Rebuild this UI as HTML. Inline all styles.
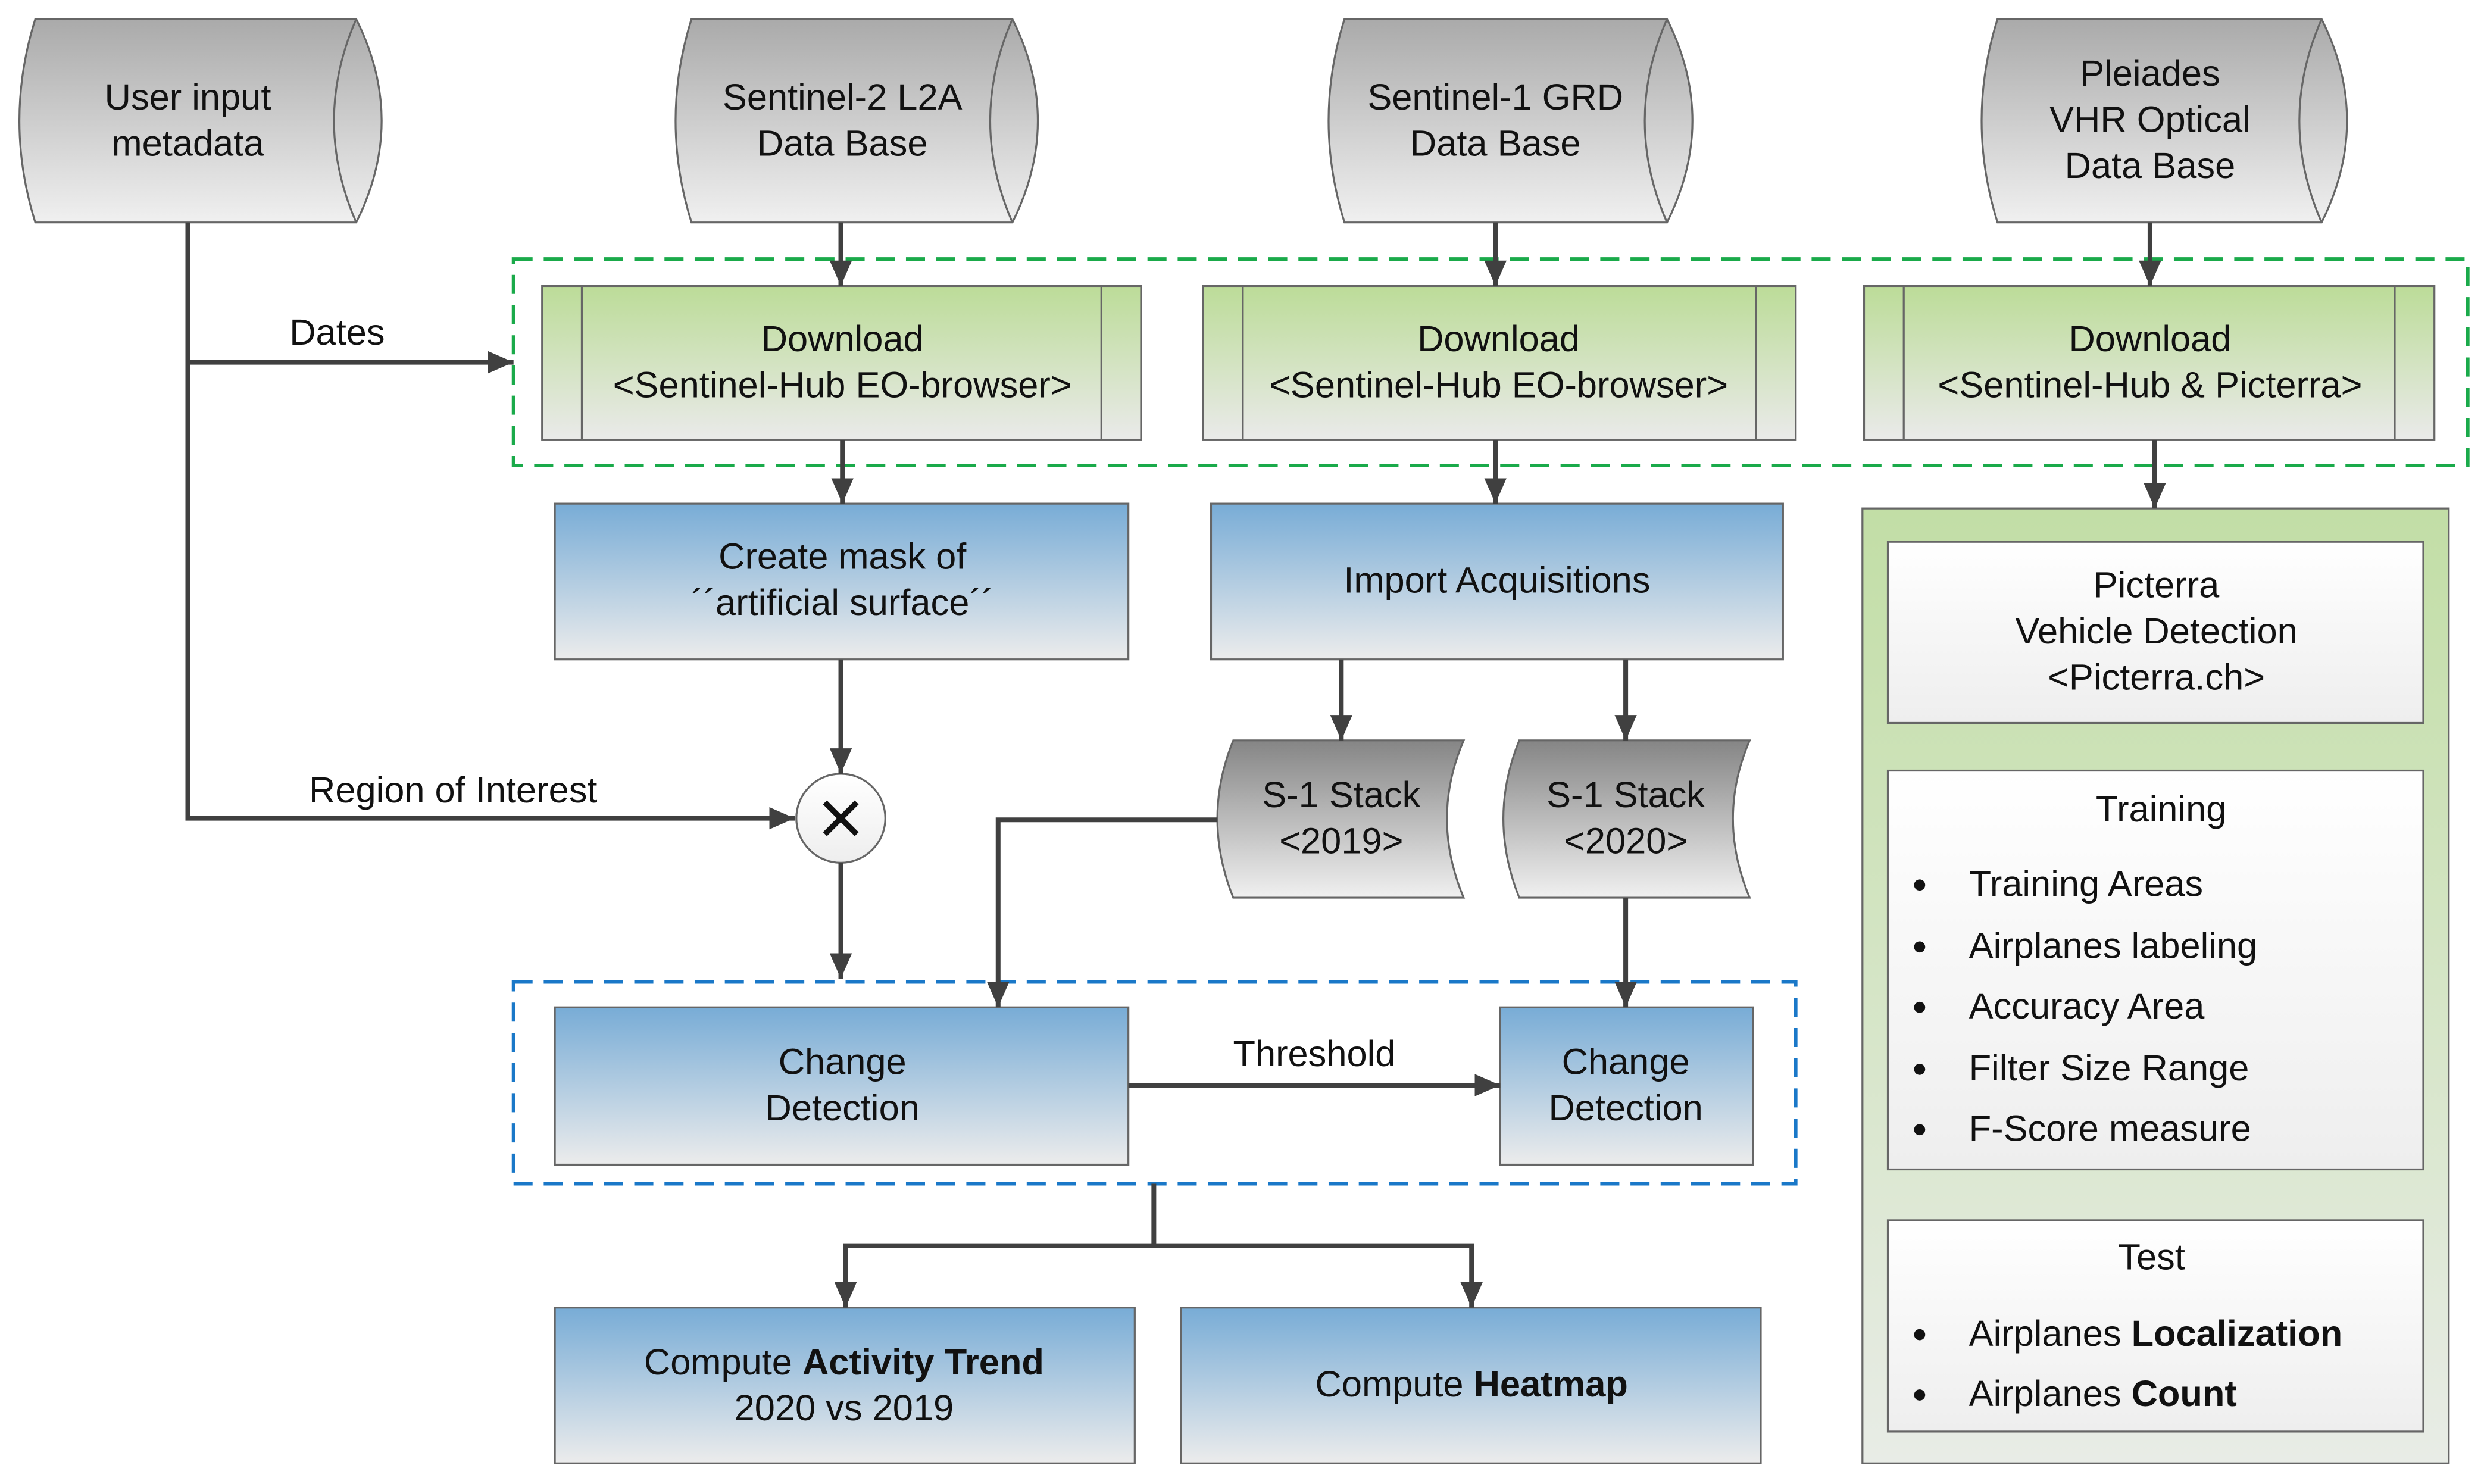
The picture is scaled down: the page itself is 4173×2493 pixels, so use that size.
<!DOCTYPE html>
<html><head><meta charset="utf-8"><style>html,body{margin:0;padding:0;background:#fff}svg{display:block}text{font-family:"Liberation Sans",Arial,sans-serif;fill:#111}</style></head><body>
<svg width="4173" height="2493" viewBox="0 0 1563 934" xmlns="http://www.w3.org/2000/svg">
<defs>
<linearGradient id="gr" x1="0" y1="0" x2="0" y2="1"><stop offset="0" stop-color="#aaaaaa"/><stop offset="1" stop-color="#f0f0f0"/></linearGradient>
<linearGradient id="gr2" x1="0" y1="0" x2="0" y2="1"><stop offset="0" stop-color="#858585"/><stop offset="1" stop-color="#f0f0f0"/></linearGradient>
<linearGradient id="gn" x1="0" y1="0" x2="0" y2="1"><stop offset="0" stop-color="#bcdc98"/><stop offset="1" stop-color="#eaeaea"/></linearGradient>
<linearGradient id="bl" x1="0" y1="0" x2="0" y2="1"><stop offset="0" stop-color="#78acd6"/><stop offset="1" stop-color="#ececec"/></linearGradient>
<linearGradient id="pn" x1="0" y1="0" x2="0" y2="1"><stop offset="0" stop-color="#c2dea6"/><stop offset="1" stop-color="#e8ece6"/></linearGradient>
<linearGradient id="wh" x1="0" y1="0" x2="0" y2="1"><stop offset="0" stop-color="#ffffff"/><stop offset="1" stop-color="#eeeeee"/></linearGradient>
<marker id="a2" viewBox="0 0 16 14" markerWidth="16" markerHeight="14" refX="16" refY="7" orient="auto" markerUnits="userSpaceOnUse"><path d="M0,0 L16,7 L0,14 Z" fill="#404040"/></marker>
</defs>
<g stroke="#666" stroke-width="1.2">
<path d="M22,12 L224,12 Q256,76 224,140 L22,140 Q2,76 22,12 Z" fill="url(#gr)"/><path d="M224,12 Q196,76 224,140" fill="none"/>
<path d="M435,12 L637,12 Q669,76 637,140 L435,140 Q415,76 435,12 Z" fill="url(#gr)"/><path d="M637,12 Q609,76 637,140" fill="none"/>
<path d="M846,12 L1049,12 Q1081,76 1049,140 L846,140 Q826,76 846,12 Z" fill="url(#gr)"/><path d="M1049,12 Q1021,76 1049,140" fill="none"/>
<path d="M1257,12 L1461,12 Q1493,76 1461,140 L1257,140 Q1237,76 1257,12 Z" fill="url(#gr)"/><path d="M1461,12 Q1433,76 1461,140" fill="none"/>
<rect x="341" y="180" width="377" height="97" fill="url(#gn)"/><path d="M366,180V277M693,180V277" fill="none"/>
<rect x="757" y="180" width="373" height="97" fill="url(#gn)"/><path d="M782,180V277M1105,180V277" fill="none"/>
<rect x="1173" y="180" width="359" height="97" fill="url(#gn)"/><path d="M1198,180V277M1507,180V277" fill="none"/>
<rect x="349" y="317" width="361" height="98" fill="url(#bl)"/>
<rect x="762" y="317" width="360" height="98" fill="url(#bl)"/>
<rect x="349" y="634" width="361" height="99" fill="url(#bl)"/>
<rect x="944" y="634" width="159" height="99" fill="url(#bl)"/>
<rect x="349" y="823" width="365" height="98" fill="url(#bl)"/>
<rect x="743" y="823" width="365" height="98" fill="url(#bl)"/>
<path d="M776,466 L921,466 Q900,515 921,565 L776,565 Q756,515 776,466 Z" fill="url(#gr2)"/>
<path d="M956,466 L1101,466 Q1080,515 1101,565 L956,565 Q936,515 956,466 Z" fill="url(#gr2)"/>
<rect x="1172" y="320" width="369" height="601" fill="url(#pn)"/>
<rect x="1188" y="341" width="337" height="114" fill="url(#wh)"/>
<rect x="1188" y="485" width="337" height="251" fill="url(#wh)"/>
<rect x="1188" y="768" width="337" height="133" fill="url(#wh)"/>
<circle cx="529" cy="515" r="28" fill="url(#wh)"/>
</g>
<path d="M519,505 L539,525 M539,505 L519,525" stroke="#111" stroke-width="3.5"/>
<rect x="323" y="163" width="1230" height="130" fill="none" stroke="#1aaa4a" stroke-width="2.2" stroke-dasharray="12,7"/>
<rect x="323" y="618" width="807" height="127" fill="none" stroke="#1a78c8" stroke-width="2.2" stroke-dasharray="12,7"/>
<g stroke="#404040" stroke-width="3" fill="none">
<path d="M118,140 V515 H500" marker-end="url(#a2)"/>
<path d="M118,228 H323" marker-end="url(#a2)"/>
<path d="M529,140 V180" marker-end="url(#a2)"/>
<path d="M941,140 V180" marker-end="url(#a2)"/>
<path d="M1353,140 V180" marker-end="url(#a2)"/>
<path d="M530,277 V317" marker-end="url(#a2)"/>
<path d="M941,277 V317" marker-end="url(#a2)"/>
<path d="M1356,277 V320" marker-end="url(#a2)"/>
<path d="M529,415 V487" marker-end="url(#a2)"/>
<path d="M529,543 V616" marker-end="url(#a2)"/>
<path d="M844,415 V466" marker-end="url(#a2)"/>
<path d="M1023,415 V466" marker-end="url(#a2)"/>
<path d="M766,516 H628 V634" marker-end="url(#a2)"/>
<path d="M1023,565 V634" marker-end="url(#a2)"/>
<path d="M710,683 H944" marker-end="url(#a2)"/>
<path d="M726,745 V784 H532 V823" marker-end="url(#a2)"/>
<path d="M726,784 H926 V823" marker-end="url(#a2)"/>
</g>
<g font-size="23" text-anchor="middle">
<text x="118" y="69">User input</text><text x="118" y="98">metadata</text>
<text x="530" y="69">Sentinel-2 L2A</text><text x="530" y="98">Data Base</text>
<text x="941" y="69">Sentinel-1 GRD</text><text x="941" y="98">Data Base</text>
<text x="1353" y="54">Pleiades</text><text x="1353" y="83">VHR Optical</text><text x="1353" y="112">Data Base</text>
<text x="530" y="221">Download</text><text x="530" y="250">&lt;Sentinel-Hub EO-browser&gt;</text>
<text x="943" y="221">Download</text><text x="943" y="250">&lt;Sentinel-Hub EO-browser&gt;</text>
<text x="1353" y="221">Download</text><text x="1353" y="250">&lt;Sentinel-Hub &amp; Picterra&gt;</text>
<text x="212" y="217">Dates</text>
<text x="530" y="358">Create mask of</text><text x="530" y="387">´´artificial surface´´</text>
<text x="942" y="373">Import Acquisitions</text>
<text x="285" y="505">Region of Interest</text>
<text x="844" y="508">S-1 Stack</text><text x="844" y="537">&lt;2019&gt;</text>
<text x="1023" y="508">S-1 Stack</text><text x="1023" y="537">&lt;2020&gt;</text>
<text x="530" y="676">Change</text><text x="530" y="705">Detection</text>
<text x="1023" y="676">Change</text><text x="1023" y="705">Detection</text>
<text x="827" y="671">Threshold</text>
<text x="531" y="865">Compute <tspan font-weight="bold">Activity Trend</tspan></text><text x="531" y="894">2020 vs 2019</text>
<text x="926" y="879">Compute <tspan font-weight="bold">Heatmap</tspan></text>
<text x="1357" y="376">Picterra</text><text x="1357" y="405">Vehicle Detection</text><text x="1357" y="434">&lt;Picterra.ch&gt;</text>
<text x="1360" y="517">Training</text>
<text x="1354" y="799">Test</text>
</g>
<g font-size="23">
<text x="1239" y="564">Training Areas</text>
<text x="1239" y="603">Airplanes labeling</text>
<text x="1239" y="641">Accuracy Area</text>
<text x="1239" y="680">Filter Size Range</text>
<text x="1239" y="718">F-Score measure</text>
<text x="1239" y="847">Airplanes <tspan font-weight="bold">Localization</tspan></text>
<text x="1239" y="885">Airplanes <tspan font-weight="bold">Count</tspan></text>
</g>
<g fill="#111"><circle cx="1208" cy="557" r="3.5"/><circle cx="1208" cy="596" r="3.5"/><circle cx="1208" cy="634" r="3.5"/><circle cx="1208" cy="673" r="3.5"/><circle cx="1208" cy="711" r="3.5"/><circle cx="1208" cy="840" r="3.5"/><circle cx="1208" cy="878" r="3.5"/></g>
</svg>
</body></html>
